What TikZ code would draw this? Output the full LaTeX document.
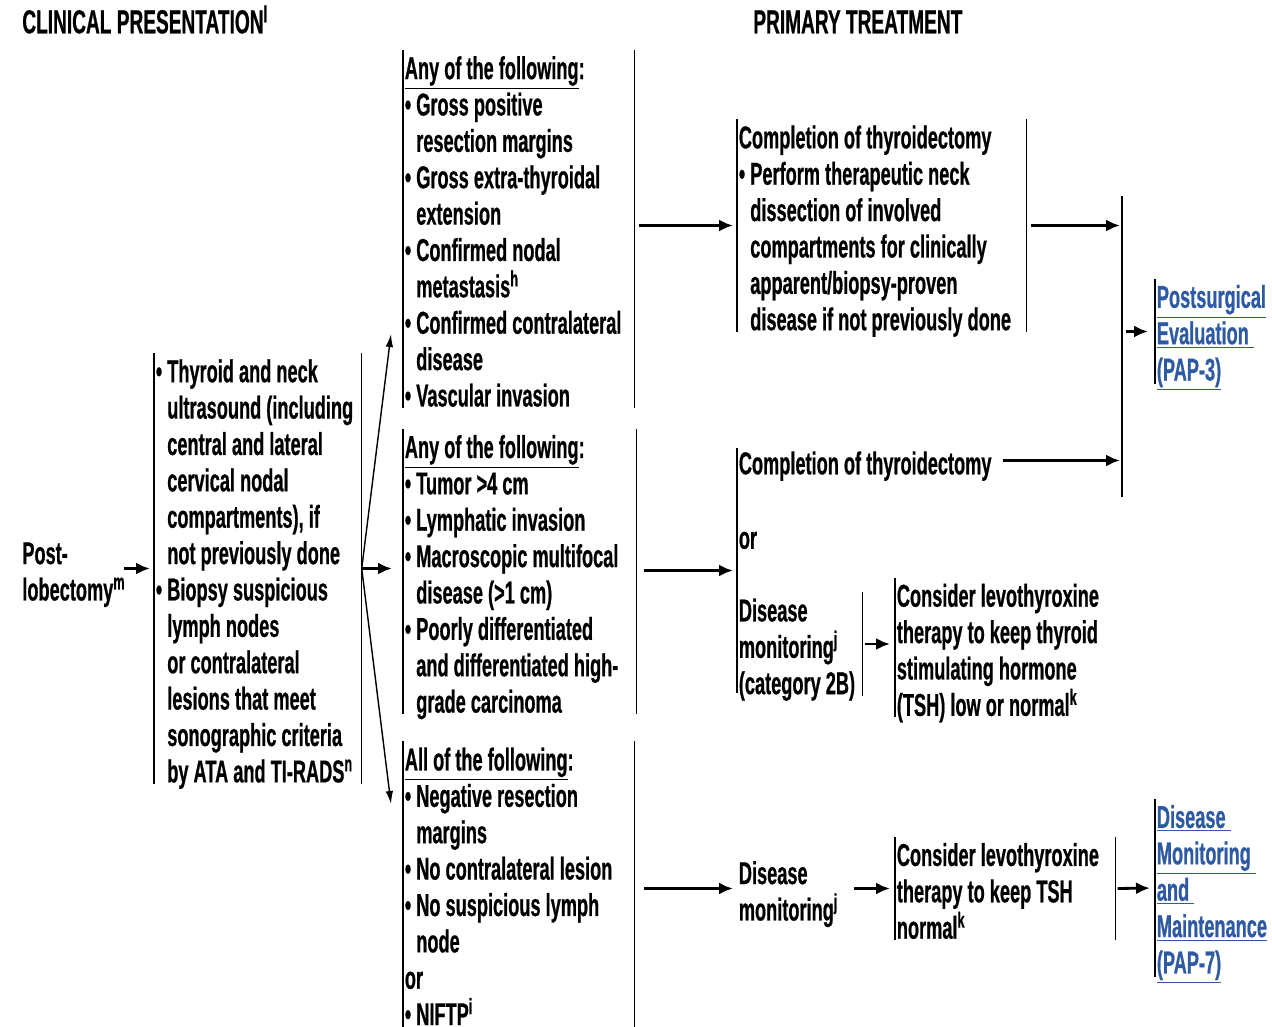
\documentclass[tikz,border=0pt]{standalone}
\usepackage{fontspec}
\setmainfont[FakeStretch=0.575, BoldFeatures={FakeBold=0.6}]{Liberation Sans}
\usepackage{tikz}
\usetikzlibrary{arrows.meta}
\usepackage{xcolor}
\definecolor{linkblue}{RGB}{46,89,163}
\hyphenpenalty=10000
\exhyphenpenalty=10000
\newcommand{\bul}{\textbullet\ }
\newcommand{\indt}{\hphantom{\textbullet\ }}
\newcommand{\lnk}[1]{\textcolor{linkblue}{\underline{#1}}}
\tikzset{
blk/.style={anchor=west, align=flush left, inner xsep=0.3mm, inner ysep=0pt,
  execute at begin node={\rule{0pt}{20.2pt}}, execute at end node={\rule[-4.5pt]{0pt}{4.5pt}}},
bare/.style={anchor=west, inner sep=0pt},
hdr/.style={blk, font=\fontsize{18.9pt}{20.7pt}\selectfont\bfseries},
bar/.style={draw, line width=0.85pt},
lbar/.style={append after command={([yshift=-3.9pt]\tikzlastnode.north west) edge[bar] ([yshift=3.9pt]\tikzlastnode.south west)}},
rbar/.style={append after command={([yshift=-3.9pt]\tikzlastnode.north east) edge[bar] ([yshift=3.9pt]\tikzlastnode.south east)}},
arr/.style={-{Latex[length=2.8mm, width=2.4mm]}, line width=1.6pt},
fan/.style={-{Latex[length=2.6mm, width=1.5mm]}, line width=0.8pt}
}

\begin{document}
\begin{tikzpicture}[x=0.2mm, y=-0.2mm, font=\fontsize{18pt}{20.7pt}\selectfont\bfseries]
\useasboundingbox (0,0) rectangle (1272,1026);
\node[hdr] (hd1) at (20.5,19.5) {CLINICAL PRESENTATION\textsuperscript{l}};
\node[hdr] (hd2) at (751.5,19.5) {PRIMARY TREATMENT};
\node[blk, text width=20mm] (post) at (20.5,568.5) {Post-\\lobectomy\textsuperscript{m}};
\node[blk, lbar, rbar, text width=40.8mm] (b1) at (154,568.5) {\bul Thyroid and neck\\ \indt ultrasound (including\\ \indt central and lateral\\ \indt cervical nodal\\ \indt compartments), if\\ \indt not previously done\\ \bul Biopsy suspicious\\ \indt lymph nodes\\ \indt or contralateral\\ \indt lesions that meet\\ \indt sonographic criteria\\ \indt by ATA and TI-RADS\textsuperscript{n}};
\node[blk, lbar, rbar, text width=45.6mm] (b2a) at (403,229) {\underline{Any of the following}:\\ \bul Gross positive\\ \indt resection margins\\ \bul Gross extra-thyroidal\\ \indt extension\\ \bul Confirmed nodal\\ \indt metastasis\textsuperscript{h}\\ \bul Confirmed contralateral\\ \indt disease\\ \bul Vascular invasion};
\node[blk, lbar, rbar, text width=46mm] (b2b) at (403,571.5) {\underline{Any of the following}:\\ \bul Tumor >4 cm\\ \bul Lymphatic invasion\\ \bul Macroscopic multifocal\\ \indt disease (>1 cm)\\ \bul Poorly differentiated\\ \indt and differentiated high-\\ \indt grade carcinoma};
\node[blk, lbar, rbar, text width=45.6mm] (b2c) at (403,884) {\underline{All of the following}:\\ \bul Negative resection\\ \indt margins\\ \bul No contralateral lesion\\ \bul No suspicious lymph\\ \indt node\\ or\\ \bul NIFTP\textsuperscript{i}};
\node[blk, lbar, rbar, text width=57.2mm] (t1) at (737,225.5) {Completion of thyroidectomy\\ \bul Perform therapeutic neck\\ \indt dissection of involved\\ \indt compartments for clinically\\ \indt apparent/biopsy-proven\\ \indt disease if not previously done};
\node[bare, lbar, minimum height=49mm+7.8pt] (t2) at (737,570.5) {};
\node[blk] (t2a) at (737,460.5) {Completion of thyroidectomy};
\node[blk] (t2or) at (737,535) {or};
\node[blk, rbar, text width=24.4mm] (t2b) at (737,644) {Disease\\monitoring\textsuperscript{j}\\(category 2B)};
\node[blk, lbar, text width=43mm] (t2c) at (895,647.5) {Consider levothyroxine\\therapy to keep thyroid\\stimulating hormone\\(TSH) low or normal\textsuperscript{k}};
\node[bare, lbar, minimum height=60.2mm+7.8pt] (jn) at (1122,346.5) {};
\node[blk, lbar, text width=22.6mm] (l1) at (1155,331.5) {\lnk{Postsurgical}\\\lnk{Evaluation\ }\\\lnk{(PAP-3)}};
\node[blk, text width=20.6mm] (m3) at (737,888.5) {Disease\\monitoring\textsuperscript{j}};
\node[blk, lbar, rbar, text width=43.4mm] (c3) at (895,888.5) {Consider levothyroxine\\therapy to keep TSH\\normal\textsuperscript{k}};
\node[blk, lbar, text width=22.6mm] (l2) at (1155,888) {\lnk{Disease\ }\\\lnk{Monitoring\ }\\\lnk{and\ }\\\lnk{Maintenance}\\\lnk{(PAP-7)}};
\coordinate (up) at (391,334);
\coordinate (dn) at (391,804);
\draw[arr, shorten >=0.8mm] (post.east |- b1.west) -- (b1.west);
\foreach \e in {up,dn}
\draw[fan] (b1.east) -- (\e);
\draw[arr, shorten >=2.2mm] (b1.east) -- (b1.east -| b2b.west);
\draw[arr, shorten <=0.8mm, shorten >=0.8mm] (b2a.east |- t1.west) -- (t1.west);
\draw[arr, shorten <=1.4mm, shorten >=0.8mm] (b2b.east |- t2.west) -- (t2.west);
\draw[arr, shorten <=1.8mm, shorten >=0.8mm] (b2c.east |- m3.west) -- (m3.west);
\draw[arr, shorten <=0.8mm, shorten >=0.4mm] (t1.east) -- (t1.east -| jn.west);
\draw[arr, shorten <=2mm, shorten >=0.4mm] (t2a.east) -- (t2a.east -| jn.west);
\draw[arr, shorten <=0.4mm, shorten >=1mm] (t2b.east) -- (t2b.east -| t2c.west);
\draw[arr, shorten <=0.4mm, shorten >=1.4mm] (jn.east |- l1.west) -- (l1.west);
\draw[arr, shorten <=2mm, shorten >=1mm] (m3.east |- c3.west) -- (c3.west);
\draw[arr, shorten <=0.4mm, shorten >=1mm] (c3.east) -- (l2.west);
\end{tikzpicture}
\end{document}
